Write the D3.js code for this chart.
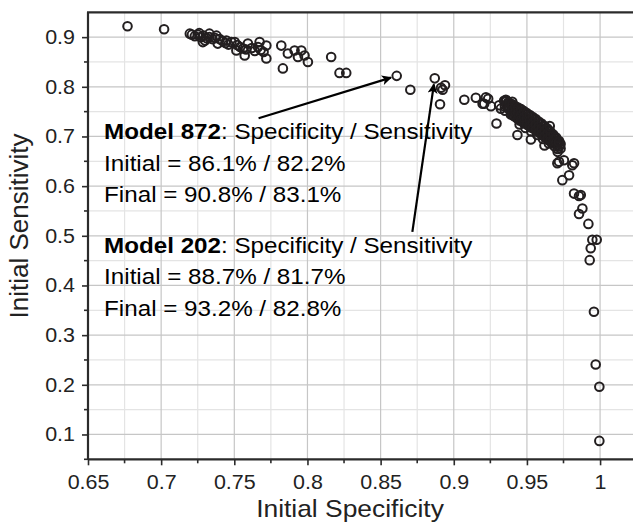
<!DOCTYPE html>
<html><head><meta charset="utf-8">
<script src="https://cdn.jsdelivr.net/npm/d3@7"></script>
<style>
body{margin:0;background:#fff;}
svg{display:block;font-family:"Liberation Sans",Arial,Helvetica,sans-serif;}
</style></head>
<body><svg id="c" width="633" height="523"></svg>
<script>
const xMajorTicks = [0.65,0.7,0.75,0.8,0.85,0.9,0.95,1];
const xTickLabels = ["0.65","0.7","0.75","0.8","0.85","0.9","0.95","1"];
const yMajorTicks = [0.1,0.2,0.3,0.4,0.5,0.6,0.7,0.8,0.9];
const yTickLabels = ["0.1","0.2","0.3","0.4","0.5","0.6","0.7","0.8","0.9"];
const xMinorTicks = [0.675,0.725,0.775,0.825,0.875,0.925,0.975];
const yMinorTicks = [0.05,0.15,0.25,0.35,0.45,0.55,0.65,0.75,0.85];
const xLabel = "Initial Specificity";
const yLabel = "Initial Sensitivity";

// [initial specificity, initial sensitivity]
const models = [
[0.677,0.922],[0.702,0.916],
[0.7196,0.907],[0.721,0.905],[0.723,0.902],[0.725,0.905],[0.726,0.908],[0.727,0.900],[0.7285,0.890],[0.729,0.903],
[0.731,0.898],[0.733,0.907],[0.733,0.900],[0.730,0.893],[0.735,0.896],[0.737,0.898],[0.7378,0.903],[0.7387,0.887],
[0.740,0.896],[0.742,0.892],[0.7446,0.893],[0.744,0.888],[0.746,0.885],[0.748,0.890],[0.7503,0.890],[0.7514,0.873],
[0.752,0.884],[0.754,0.880],[0.756,0.877],[0.7571,0.863],[0.758,0.875],[0.7593,0.887],[0.762,0.878],[0.764,0.872],
[0.7662,0.880],[0.7673,0.890],[0.768,0.874],[0.770,0.870],[0.7719,0.883],[0.7719,0.857],[0.7821,0.883],[0.7832,0.837],
[0.7866,0.867],[0.7912,0.873],[0.7935,0.860],[0.7958,0.873],[0.798,0.863],[0.8003,0.850],[0.8162,0.860],[0.8219,0.828],
[0.8265,0.828],
[0.861,0.822],[0.8703,0.794],[0.887,0.817],[0.8913,0.798],[0.894,0.803],[0.8924,0.794],[0.8906,0.765],
[0.9072,0.774],[0.9151,0.778],[0.9197,0.766],[0.9208,0.766],[0.922,0.779],[0.9235,0.776],[0.9254,0.761],[0.9292,0.726],
[0.931,0.763],[0.9322,0.756],[0.9344,0.772],[0.9356,0.774],[0.940,0.770],
[0.935,0.770],[0.935,0.760],[0.935,0.752],[0.937,0.768],[0.937,0.757],
[0.939,0.765],[0.939,0.752],[0.939,0.744],[0.941,0.760],[0.941,0.750],[0.941,0.741],
[0.943,0.757],[0.943,0.746],[0.943,0.737],[0.945,0.755],[0.945,0.743],[0.945,0.732],[0.945,0.724],
[0.947,0.750],[0.947,0.740],[0.947,0.729],[0.949,0.745],[0.949,0.736],[0.949,0.726],[0.949,0.717],
[0.951,0.742],[0.951,0.732],[0.951,0.722],[0.953,0.738],[0.953,0.728],[0.953,0.718],[0.953,0.710],
[0.955,0.734],[0.955,0.724],[0.955,0.715],[0.957,0.730],[0.957,0.720],[0.957,0.711],[0.957,0.703],
[0.959,0.726],[0.959,0.716],[0.959,0.707],[0.961,0.721],[0.961,0.712],[0.961,0.702],[0.961,0.695],
[0.963,0.716],[0.963,0.706],[0.963,0.698],[0.965,0.712],[0.965,0.702],[0.965,0.692],[0.965,0.686],
[0.967,0.705],[0.967,0.696],[0.967,0.688],[0.969,0.698],[0.969,0.690],[0.969,0.680],
[0.971,0.690],[0.971,0.683],[0.971,0.675],[0.973,0.685],[0.973,0.676],
[0.936,0.772],[0.936,0.763],[0.938,0.768],[0.938,0.756],[0.940,0.765],[0.940,0.753],[0.940,0.744],
[0.942,0.761],[0.942,0.750],[0.942,0.741],[0.944,0.758],[0.944,0.747],[0.944,0.736],[0.946,0.755],[0.946,0.743],[0.946,0.733],
[0.948,0.751],[0.948,0.739],[0.948,0.728],[0.950,0.747],[0.950,0.736],[0.950,0.724],[0.952,0.743],[0.952,0.732],[0.952,0.721],
[0.954,0.739],[0.954,0.728],[0.954,0.717],[0.956,0.735],[0.956,0.724],[0.956,0.713],[0.958,0.730],[0.958,0.720],[0.958,0.708],
[0.960,0.726],[0.960,0.716],[0.960,0.705],[0.962,0.721],[0.962,0.711],[0.962,0.700],[0.964,0.716],[0.964,0.706],[0.964,0.696],
[0.966,0.710],[0.966,0.701],[0.966,0.691],[0.968,0.704],[0.968,0.694],[0.968,0.686],[0.970,0.698],[0.970,0.688],
[0.972,0.691],[0.972,0.680],
[0.9435,0.703],[0.9527,0.694],[0.9656,0.721],[0.9719,0.689],[0.962,0.682],[0.971,0.669],[0.9719,0.649],[0.9753,0.652],
[0.9822,0.646],[0.9708,0.646],[0.9742,0.612],[0.9788,0.622],[0.981,0.642],
[0.9822,0.585],[0.9856,0.580],[0.9868,0.582],[0.9879,0.555],[0.9856,0.544],[0.992,0.524],[0.9947,0.492],[0.9977,0.492],
[0.9936,0.475],[0.9929,0.451],[0.9958,0.347],[0.997,0.241],[0.9995,0.196],[0.9995,0.087]
];

const annotations = [
  {name:"Model 872", rest:": Specificity / Sensitivity", initial:"Initial = 86.1% / 82.2%", final:"Final = 90.8% / 83.1%",
   textAt:[0.661,0.6946], tail:[0.7666,0.7367], target:[0.861,0.822]},
  {name:"Model 202", rest:": Specificity / Sensitivity", initial:"Initial = 88.7% / 81.7%", final:"Final = 93.2% / 82.8%",
   textAt:[0.661,0.4663], tail:[0.8717,0.5078], target:[0.887,0.817]}
];

const W=633,H=523, L=88, T=12.3, R=633, B=459.3, SX=1.1;
const svg=d3.select("#c");
const x=d3.scaleLinear().domain([0.65,1.0225]).range([L,R]);
const y=d3.scaleLinear().domain([0.05,0.95]).range([B,T]);

// grid
const g=svg.append("g");
g.selectAll(".gxm").data(xMinorTicks).join("line").attr("x1",d=>x(d)).attr("x2",d=>x(d)).attr("y1",T).attr("y2",B).attr("stroke","#e4e4e4").attr("stroke-width",1.2);
g.selectAll(".gym").data(yMinorTicks).join("line").attr("y1",d=>y(d)).attr("y2",d=>y(d)).attr("x1",L).attr("x2",R).attr("stroke","#e4e4e4").attr("stroke-width",1.2);
g.selectAll(".gxM").data(xMajorTicks).join("line").attr("x1",d=>x(d)).attr("x2",d=>x(d)).attr("y1",T).attr("y2",B).attr("stroke","#c6c6c6").attr("stroke-width",1.2);
g.selectAll(".gyM").data(yMajorTicks).join("line").attr("y1",d=>y(d)).attr("y2",d=>y(d)).attr("x1",L).attr("x2",R).attr("stroke","#c6c6c6").attr("stroke-width",1.2);

// points
svg.append("g").selectAll("circle").data(models).join("circle")
  .attr("cx",d=>x(d[0])).attr("cy",d=>y(d[1])).attr("r",4.3)
  .attr("fill","none").attr("stroke","#231f20").attr("stroke-width",2);

// axes
const xAxis=d3.axisBottom(x).tickValues(xMajorTicks).tickFormat((d,i)=>xTickLabels[i]).tickSize(6).tickPadding(10);
const ax=svg.append("g").attr("transform",`translate(0,${B})`).call(xAxis);
ax.select(".domain").attr("d",`M${L},0H${R}`);
ax.selectAll(".minor").data(xMinorTicks).join("line").attr("class","minor").attr("x1",d=>x(d)).attr("x2",d=>x(d)).attr("y1",0).attr("y2",4);
const yAxis=d3.axisLeft(y).tickValues(yMajorTicks).tickFormat((d,i)=>yTickLabels[i]).tickSize(6).tickPadding(7);
const ay=svg.append("g").attr("transform",`translate(${L},0)`).call(yAxis);
ay.select(".domain").attr("d",`M0,${B}V${T}`);
ay.selectAll(".minor").data(yMinorTicks).join("line").attr("class","minor").attr("y1",d=>y(d)).attr("y2",d=>y(d)).attr("x1",0).attr("x2",-4);
[ax,ay].forEach(a=>{
  a.selectAll(".domain").attr("stroke","#2b2b2b").attr("stroke-width",2.2);
  a.selectAll("line").attr("stroke","#2b2b2b").attr("stroke-width",1.6);
  a.selectAll("text").attr("font-size",19.5).attr("fill","#222").attr("font-family","'Liberation Sans',Arial,sans-serif");
});
ax.selectAll(".tick text").attr("transform",`scale(${SX},1)`);
ay.selectAll(".tick text").attr("x",-13/SX).attr("transform",`scale(${SX},1)`);
svg.append("line").attr("x1",L-1).attr("x2",R).attr("y1",T).attr("y2",T).attr("stroke","#2b2b2b").attr("stroke-width",2.2);

// axis labels
svg.append("text").attr("transform",`translate(350,516.5) scale(${SX},1)`).attr("text-anchor","middle").attr("font-size",24).attr("fill","#222").text(xLabel);
svg.append("text").attr("transform",`translate(28,226) rotate(-90)`).attr("text-anchor","middle").attr("font-size",26).attr("fill","#222").text(yLabel);

// arrows
svg.append("defs").append("marker").attr("id","ah").attr("viewBox","0 0 10 10").attr("refX",9).attr("refY",5)
  .attr("markerWidth",14).attr("markerHeight",10).attr("markerUnits","userSpaceOnUse").attr("orient","auto")
  .append("path").attr("d","M0,0L10,5L0,10L2.5,5Z").attr("fill","#000");

annotations.forEach(a=>{
  const x1=x(a.tail[0]),y1=y(a.tail[1]);
  let x2=x(a.target[0]),y2=y(a.target[1]);
  const dx=x2-x1,dy=y2-y1,len=Math.hypot(dx,dy);
  x2-=dx/len*6; y2-=dy/len*6;
  svg.append("line").attr("x1",x1).attr("y1",y1).attr("x2",x2).attr("y2",y2)
    .attr("stroke","#000").attr("stroke-width",2.2).attr("marker-end","url(#ah)");
  const tx=x(a.textAt[0]), ty=y(a.textAt[1]);
  const grp=svg.append("g").attr("transform",`translate(${tx},${ty}) scale(${SX},1)`);
  const t=grp.append("text").attr("x",0).attr("y",0).attr("font-size",22).attr("fill","#000");
  t.append("tspan").attr("font-weight","bold").text(a.name);
  t.append("tspan").text(a.rest);
  grp.append("text").attr("x",0).attr("y",31.8).attr("font-size",22).attr("fill","#000").text(a.initial);
  grp.append("text").attr("x",0).attr("y",63).attr("font-size",22).attr("fill","#000").text(a.final);
});
</script></body></html>
